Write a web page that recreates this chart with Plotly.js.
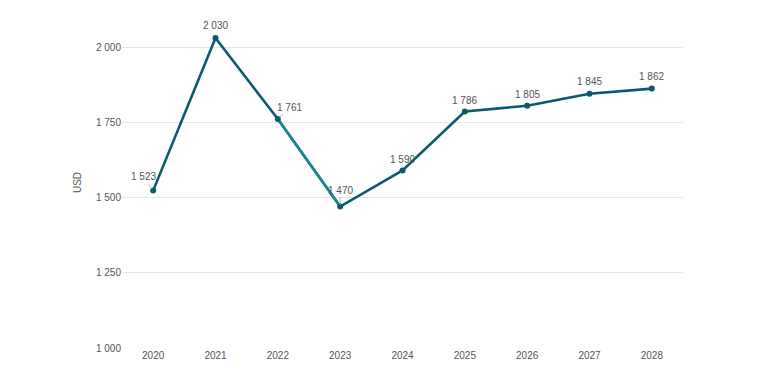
<!DOCTYPE html>
<html><head><meta charset="utf-8">
<script src="https://cdn.plot.ly/plotly-3.0.1.min.js"></script>
<style>html,body{margin:0;padding:0;background:#fff}</style>
</head><body>
<div id="chart" style="width:757px;height:379px"></div>
<script>
var years = ["2020","2021","2022","2023","2024","2025","2026","2027","2028"];
var values = [1523, 2030, 1761, 1470, 1590, 1786, 1805, 1845, 1862];
var yTicks = [1000, 1250, 1500, 1750, 2000];

function fmt(v){ var s = String(v); return s.length > 3 ? s.slice(0, s.length-3) + " " + s.slice(s.length-3) : s; }

var dark = "#0a5a6c", light = "#1a8595";
var traces = [
  {x: years, y: values, type: "scatter", mode: "lines", line: {color: dark, width: 2.6}, hoverinfo: "skip"},
  {x: years.slice(2,4), y: values.slice(2,4), type: "scatter", mode: "lines", line: {color: light, width: 2.4}, hoverinfo: "skip"},
  {x: years, y: values, type: "scatter", mode: "markers", marker: {color: dark, size: 6}, hoverinfo: "skip"}
];

var labelAx = [-10, 0, 12, 0, 0, 0, 0, 0, 0];
var labelAy = [-14, -14, -12, -16, -12, -12, -12, -12, -12];
var leader = [true, false, true, true, false, false, false, false, false];
var labelShift = [0, 13, 0, 0, 11, 11, 11, 12, 12];

var annotations = [];
for (var i = 0; i < years.length; i++) {
  // category axis: position by category index (numeric-looking names would be read as indices)
  var a = {x: years.indexOf(years[i]), y: values[i], xref: "x", yref: "y", text: fmt(values[i]),
    font: {family: "Liberation Sans, Arial, sans-serif", size: 10, color: "#555"}};
  if (leader[i]) {
    a.showarrow = true; a.arrowhead = 0; a.arrowwidth = 0.8; a.arrowcolor = "#aaaaaa";
    a.ax = labelAx[i]; a.ay = labelAy[i]; a.standoff = 2;
  } else {
    a.showarrow = false; a.yshift = labelShift[i];
  }
  annotations.push(a);
}

var layout = {
  width: 757, height: 379,
  margin: {l: 122, r: 74, t: 17, b: 31},
  paper_bgcolor: "#fff", plot_bgcolor: "#fff",
  separators: ". ",
  showlegend: false,
  font: {family: "Liberation Sans, Arial, sans-serif", size: 10, color: "#555"},
  xaxis: {type: "category", range: [-0.5, 8.5], showgrid: false, zeroline: false, showline: false,
    ticks: "", tickfont: {size: 10, color: "#555"}},
  yaxis: {range: [1000, 2100], tickvals: yTicks, tickformat: ",d", separatethousands: true,
    showgrid: true, gridcolor: "#e6e6e6",
    gridwidth: 1, zeroline: false, showline: false, ticks: "",
    tickfont: {size: 10, color: "#555"}, title: {text: "USD", font: {size: 10, color: "#555"}, standoff: 12}},
  annotations: annotations
};

Plotly.newPlot("chart", traces, layout, {displayModeBar: false});
</script>
</body></html>
